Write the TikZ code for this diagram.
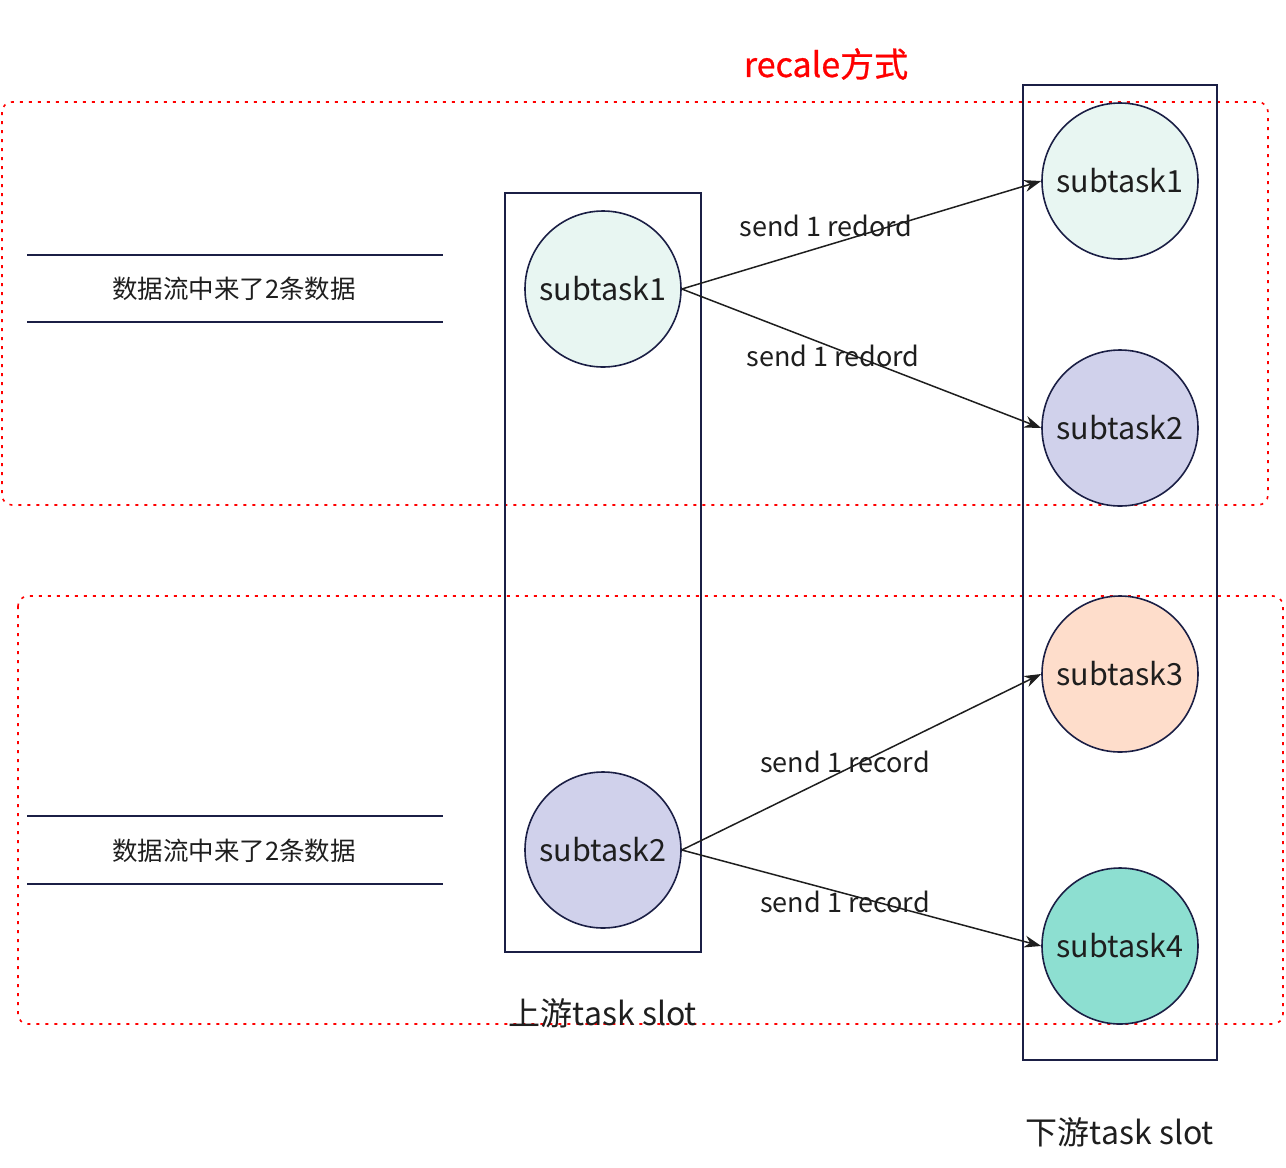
\documentclass[tikz,border=0pt]{standalone}
\usepackage{fontspec}
\setmainfont{Noto Sans CJK SC}
\newfontfamily\titlefont[FakeBold=0.8]{Noto Sans CJK SC}
\usetikzlibrary{arrows.meta}
\definecolor{navy}{HTML}{1B1F45}
\definecolor{fA}{HTML}{E8F6F2}
\definecolor{fB}{HTML}{D0D1EB}
\definecolor{fC}{HTML}{FEDDCB}
\definecolor{fD}{HTML}{8DDFD1}
\definecolor{ink}{HTML}{1E1E1E}
\tikzset{
  task/.style={circle,draw=navy,line width=1.6pt,minimum size=156pt,inner sep=0pt,font=\fontsize{30.5}{34}\selectfont,text=ink},
  slot/.style={draw=navy,line width=1.8pt},
  group/.style={draw=red,line width=1.6pt,dash pattern=on 3pt off 6pt,rounded corners=10pt},
  flow/.style={draw=ink,line width=1.5pt,-{Stealth[length=17pt,width=12pt]}},
  lbl/.style={font=\fontsize{27}{30}\selectfont,text=ink,inner sep=0pt},
  band/.style={draw=navy,line width=2pt},
}
\begin{document}
\begin{tikzpicture}[x=1pt,y=-1pt]
\useasboundingbox (0,0) rectangle (1286,1168);
% groups
\draw[group] (2,102) rectangle (1268,505);
\draw[group] (18,596) rectangle (1283,1024);
\node[text=red,font=\fontsize{34}{38}\titlefont,inner sep=0pt] (title) at (826,64) {recale方式};
% slots
\draw[slot] (505,193) rectangle (701,952);
\draw[slot] (1023,85) rectangle (1217,1060);
\node[lbl,font=\fontsize{32}{36}\selectfont] (uplbl) at (603,1013) {上游task slot};
\node[lbl,font=\fontsize{32}{36}\selectfont] (downlbl) at (1120,1132) {下游task slot};
% data streams
\coordinate (a1) at (27,255); \coordinate (a2) at (443,255);
\coordinate (b1) at (27,322); \coordinate (b2) at (443,322);
\draw[band] (a1) -- (a2); \draw[band] (b1) -- (b2);
\node[lbl,font=\fontsize{25.5}{28}\selectfont] (data1) at (234,289) {数据流中来了2条数据};
\coordinate (c1) at (27,816); \coordinate (c2) at (443,816);
\coordinate (e1) at (27,884); \coordinate (e2) at (443,884);
\draw[band] (c1) -- (c2); \draw[band] (e1) -- (e2);
\node[lbl,font=\fontsize{25.5}{28}\selectfont] (data2) at (234,851) {数据流中来了2条数据};
% tasks
\node[task,fill=fA] (u1) at (603,289) {subtask1};
\node[task,fill=fB] (u2) at (603,850) {subtask2};
\node[task,fill=fA] (d1) at (1120,181) {subtask1};
\node[task,fill=fB] (d2) at (1120,428) {subtask2};
\node[task,fill=fC] (d3) at (1120,674) {subtask3};
\node[task,fill=fD] (d4) at (1120,946) {subtask4};
% flows
\draw[flow] (u1.east) -- (d1.west);
\draw[flow] (u1.east) -- (d2.west);
\draw[flow] (u2.east) -- (d3.west);
\draw[flow] (u2.east) -- (d4.west);
\node[lbl] (s1) at (826,226) {send 1 redord};
\node[lbl] (s2) at (833,356) {send 1 redord};
\node[lbl] (s3) at (845,762) {send 1 record};
\node[lbl] (s4) at (845,902) {send 1 record};
\end{tikzpicture}
\end{document}
